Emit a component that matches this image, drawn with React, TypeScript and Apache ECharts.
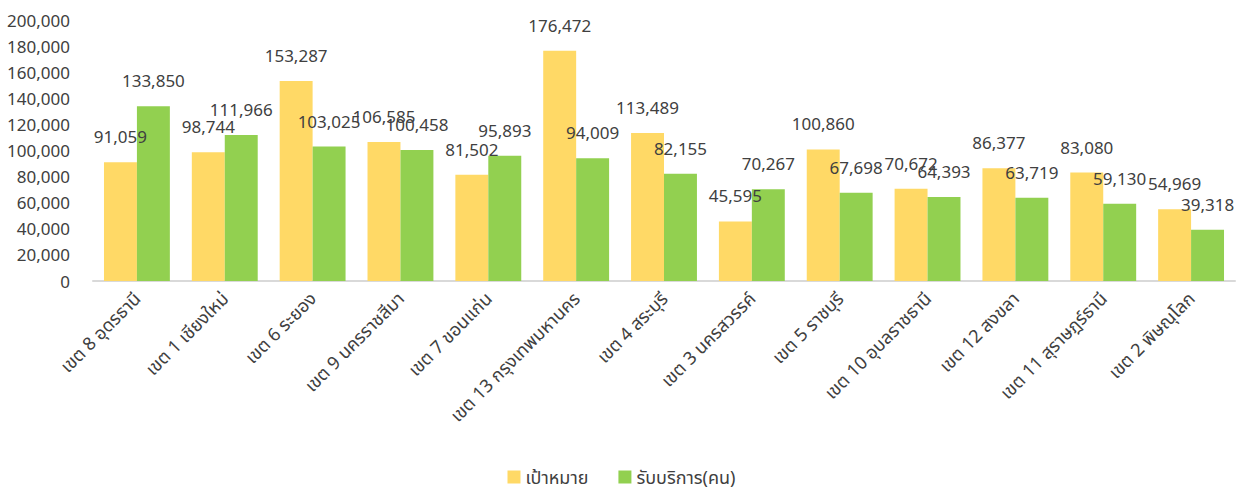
import React, { useEffect, useRef } from "react";
import * as echarts from "echarts";

const categories = [
  "เขต 8 อุดรธานี",
  "เขต 1 เชียงใหม่",
  "เขต 6 ระยอง",
  "เขต 9 นครราชสีมา",
  "เขต 7 ขอนแก่น",
  "เขต 13 กรุงเทพมหานคร",
  "เขต 4 สระบุรี",
  "เขต 3 นครสวรรค์",
  "เขต 5 ราชบุรี",
  "เขต 10 อุบลราชธานี",
  "เขต 12 สงขลา",
  "เขต 11 สุราษฎร์ธานี",
  "เขต 2 พิษณุโลก",
];
const targetValues = [91059, 98744, 153287, 106585, 81502, 176472, 113489, 45595, 100860, 70672, 86377, 83080, 54969];
const servedValues = [133850, 111966, 103025, 100458, 95893, 94009, 82155, 70267, 67698, 64393, 63719, 59130, 39318];
const seriesNames = ["เป้าหมาย", "รับบริการ(คน)"];

const FONT = "'Noto Sans', 'Noto Sans Thai', 'DejaVu Sans', sans-serif";
const fmt = (v: number) => v.toLocaleString("en-US");

export default function App() {
  const ref = useRef<HTMLDivElement>(null);
  useEffect(() => {
    if (!ref.current) return;
    const chart = echarts.init(ref.current, null, { renderer: "svg" });
    const label = {
      show: true,
      position: "top" as const,
      distance: 17,
      color: "#404040",
      fontSize: 17,
      fontFamily: FONT,
      formatter: (p: any) => fmt(p.value),
    };
    chart.setOption({
      animation: false,
      textStyle: { fontFamily: FONT },
      grid: { left: 93, right: 8, top: 20, bottom: 210, containLabel: false },
      legend: {
        bottom: 0,
        left: "center",
        itemWidth: 13,
        itemHeight: 13,
        itemGap: 30,
        icon: "rect",
        textStyle: { fontSize: 18, color: "#404040", fontFamily: FONT },
        data: seriesNames,
      },
      xAxis: {
        type: "category",
        data: categories,
        axisLine: { lineStyle: { color: "#d9d9d9", width: 2 } },
        axisTick: { show: false },
        axisLabel: {
          interval: 0,
          rotate: 45,
          fontSize: 18,
          color: "#404040",
          fontFamily: FONT,
          margin: 14,
        },
      },
      yAxis: {
        type: "value",
        min: 0,
        max: 200000,
        interval: 20000,
        axisLine: { show: false },
        axisTick: { show: false },
        splitLine: { show: false },
        axisLabel: {
          fontSize: 17,
          color: "#404040",
          fontFamily: FONT,
          margin: 23,
          formatter: (v: number) => fmt(v),
        },
      },
      series: [
        {
          name: seriesNames[0],
          type: "bar",
          data: targetValues,
          itemStyle: { color: "#FFD966" },
          barGap: "0%",
          barCategoryGap: "25%",
          label,
        },
        {
          name: seriesNames[1],
          type: "bar",
          data: servedValues,
          itemStyle: { color: "#92D050" },
          barGap: "0%",
          barCategoryGap: "25%",
          label,
        },
      ],
    });
    return () => chart.dispose();
  }, []);
  return (
    <div
      ref={ref}
      style={{ position: "fixed", left: 0, top: 0, width: 1243, height: 491, background: "#fff" }}
    />
  );
}
